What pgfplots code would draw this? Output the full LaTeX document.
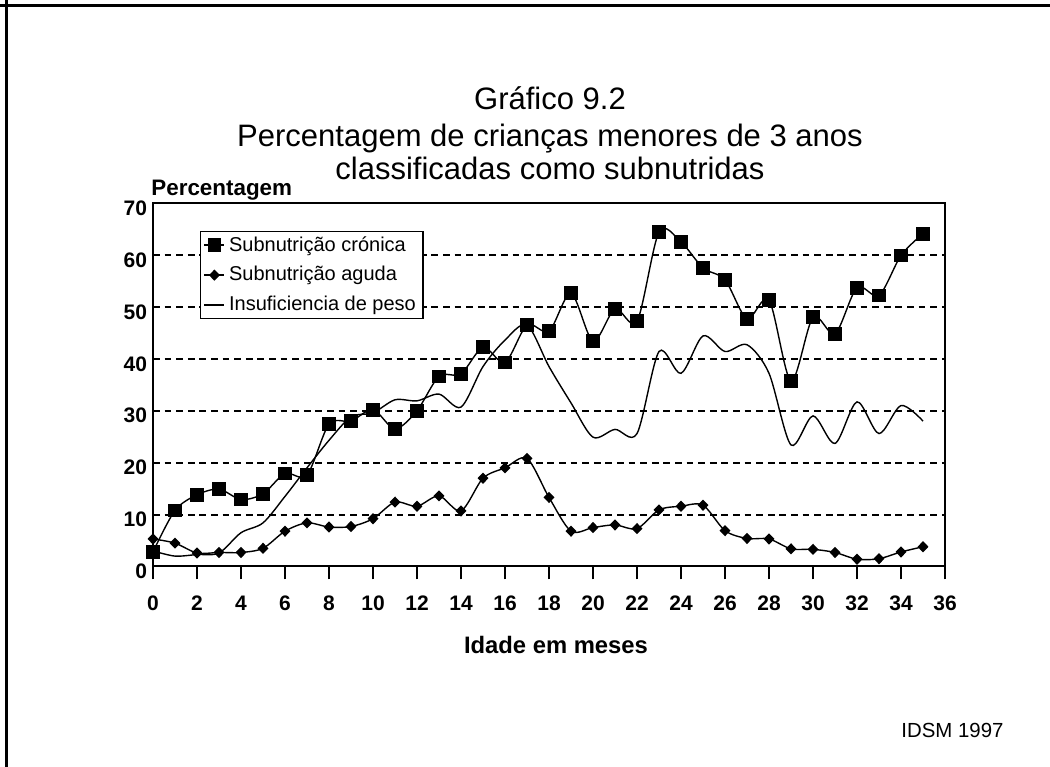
\documentclass[border=0pt]{standalone}
\usepackage{fontspec}
\setmainfont{Liberation Sans}
\usepackage{pgfplots}
\pgfplotsset{compat=1.18}
\newcommand\pxc[2]{({(#1)*0.5bp},{(767-(#2))*0.5bp})}
\pgfplotstableread{
m v
0 2.8
1 10.8
2 13.8
3 14.9
4 12.9
5 14.0
6 17.9
7 17.6
8 27.4
9 28.0
10 30.2
11 26.5
12 30.0
13 36.6
14 37.1
15 42.2
16 39.3
17 46.5
18 45.3
19 52.6
20 43.4
21 49.6
22 47.2
23 64.4
24 62.5
25 57.5
26 55.2
27 47.7
28 51.3
29 35.7
30 48.0
31 44.8
32 53.7
33 52.2
34 59.9
35 64.1
}\cronica
\pgfplotstableread{
m v
0 5.3
1 4.5
2 2.6
3 2.7
4 2.7
5 3.5
6 6.8
7 8.4
8 7.6
9 7.7
10 9.2
11 12.4
12 11.6
13 13.6
14 10.7
15 17.0
16 19.0
17 20.8
18 13.3
19 6.8
20 7.5
21 8.0
22 7.3
23 10.9
24 11.6
25 11.8
26 6.9
27 5.4
28 5.3
29 3.4
30 3.3
31 2.7
32 1.4
33 1.5
34 2.8
35 3.8
}\aguda
\pgfplotstableread{
m v
0 3.0
1 2.0
2 2.3
3 2.6
4 6.5
5 8.4
6 13.5
7 19.0
8 24.3
9 28.8
10 29.6
11 32.1
12 31.9
13 33.2
14 30.7
15 38.5
16 43.6
17 46.5
18 38.5
19 31.5
20 24.9
21 26.4
22 25.6
23 41.4
24 37.2
25 44.4
26 41.4
27 42.7
28 37.2
29 23.4
30 29.0
31 23.7
32 31.7
33 25.6
34 31.0
35 28.0
}\peso
\begin{document}
\begin{tikzpicture}
\path[use as bounding box] \pxc{0}{0} rectangle \pxc{1050}{767};
\fill[white] \pxc{0}{0} rectangle \pxc{1050}{767};
\draw[line width=1.6bp] \pxc{0}{5.5} -- \pxc{1050}{5.5};
\draw[line width=1.6bp] \pxc{6.5}{0} -- \pxc{6.5}{767};
\node[font=\fontsize{15.5bp}{18bp}\selectfont,anchor=base,inner sep=0pt] at \pxc{550}{110} {Gráfico 9.2};
\node[font=\fontsize{15.5bp}{18bp}\selectfont,anchor=base,inner sep=0pt] at \pxc{550}{147} {Percentagem de crianças menores de 3 anos};
\node[font=\fontsize{15.5bp}{18bp}\selectfont,anchor=base,inner sep=0pt] at \pxc{550}{180} {classificadas como subnutridas};
\node[font=\bfseries\fontsize{11.2bp}{13bp}\selectfont,anchor=base west,inner sep=0pt] at \pxc{151}{196} {Percentagem};
\node[font=\bfseries\fontsize{11.9bp}{14bp}\selectfont,anchor=base,inner sep=0pt] at \pxc{556}{654} {Idade em meses};
\node[font=\fontsize{10.2bp}{12bp}\selectfont,anchor=base,inner sep=0pt] at \pxc{952.5}{738} {IDSM 1997};
\begin{axis}[
  at={(76.5bp,100.25bp)}, anchor=south west,
  scale only axis, width=396bp, height=181.75bp,
  xmin=0, xmax=36, ymin=0, ymax=70,
  xtick={0,2,...,36}, ytick={0,10,...,70},
  tick pos=left, tick align=outside,
  major tick length=6.5bp,
  xtick style={black, line width=1bp},
  ytick style={draw=none},
  axis line style={black, line width=1bp},
  ymajorgrids,
  grid style={black, line width=1bp, dash pattern=on 3.4bp off 2.4bp},
  /pgf/number format/assume math mode=true,
  tick label style={font=\bfseries\fontsize{10.5bp}{12bp}\selectfont},
  xticklabel style={text height=7.6bp, text depth=0pt, yshift=-4.5bp},
  yticklabel style={yshift=-2.5bp, xshift=7bp},
  legend cell align=left,
  legend style={at={(0.0593,0.923)}, anchor=north west, draw=black, line width=0.75bp,
    font=\fontsize{10bp}{12bp}\selectfont, inner xsep=1.5bp, inner ysep=0.3bp, row sep=2.2bp,
    /tikz/every even column/.append style={column sep=1pt}},
  legend image code/.code={\draw[mark repeat=2,mark phase=2,#1] plot coordinates {(0bp,0bp) (5bp,0bp) (10bp,0bp)};},
]
\addplot[black, line width=0.7bp, smooth, mark=square*, mark size=3.1bp, mark options={solid}] table[x=m,y=v] {\cronica};
\addlegendentry{Subnutrição crónica}
\addplot[black, line width=0.7bp, smooth, mark=diamond*, mark size=2.3bp, mark options={solid, xscale=1.3}] table[x=m,y=v] {\aguda};
\addlegendentry{Subnutrição aguda}
\addplot[black, line width=0.7bp, smooth, no marks] table[x=m,y=v] {\peso};
\addlegendentry{Insuficiencia de peso}
\end{axis}
\end{tikzpicture}
\end{document}
